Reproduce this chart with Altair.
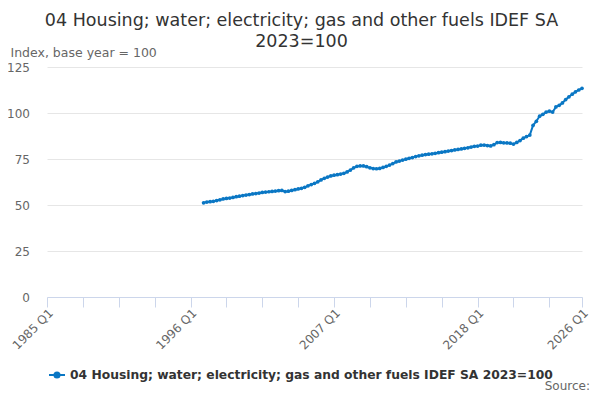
import altair as alt
import pandas as pd

series_name = "04 Housing; water; electricity; gas and other fuels IDEF SA 2023=100"
start_year = 1997  # first observation is 1997 Q1, quarterly
values = [
    51.2, 51.6, 51.8, 52.0,   # 1997
    52.4, 52.8, 53.3, 53.6,   # 1998
    53.8, 54.1, 54.5, 54.8,   # 1999
    55.1, 55.4, 55.7, 56.0,   # 2000
    56.2, 56.5, 56.8, 57.0,   # 2001
    57.2, 57.4, 57.6, 57.8,   # 2002
    57.9, 57.3, 57.5, 57.9,   # 2003
    58.3, 58.7, 59.1, 59.6,   # 2004
    60.4, 61.1, 61.8, 62.6,   # 2005
    63.6, 64.5, 65.2, 65.8,   # 2006
    66.2, 66.5, 66.8, 67.2,   # 2007
    68.0, 69.0, 70.2, 71.0,   # 2008
    71.2, 71.2, 70.8, 70.2,   # 2009
    69.8, 69.7, 69.9, 70.4,   # 2010
    71.0, 71.7, 72.5, 73.4,   # 2011
    73.9, 74.4, 74.9, 75.4,   # 2012
    75.8, 76.3, 76.7, 77.1,   # 2013
    77.4, 77.6, 77.8, 78.1,   # 2014
    78.4, 78.7, 79.0, 79.3,   # 2015
    79.6, 79.9, 80.2, 80.5,   # 2016
    80.8, 81.1, 81.5, 81.9,   # 2017
    82.0, 82.5, 82.6, 82.3,   # 2018
    82.1, 82.8, 83.9, 84.0,   # 2019
    83.8, 83.7, 83.6, 83.1,   # 2020
    84.0, 85.0, 86.3, 87.2,   # 2021
    88.0, 93.3, 95.5, 98.3,   # 2022
    99.3, 100.5, 101.0, 100.5,  # 2023
    103.3, 104.2, 105.5, 107.3,  # 2024
    108.8, 110.2, 111.5, 112.5,  # 2025
    113.4,                     # 2026
]

x_tick_positions = [0, 11, 22, 33, 44, 55, 66, 77, 88, 99, 110, 121, 132, 143, 154, 164]
x_tick_labels = {0: "1985 Q1", 44: "1996 Q1", 88: "2007 Q1", 132: "2018 Q1", 164: "2026 Q1"}
y_ticks = [0, 25, 50, 75, 100, 125]

BLUE = "#0a77c4"
FONT = "DejaVu Sans"

q = [(start_year - 1985) * 4 + i for i in range(len(values))]
periods = [f"{1985 + k // 4} Q{k % 4 + 1}" for k in q]
df = pd.DataFrame({"q": q, "period": periods, "value": values, "series": series_name})

label_expr = " : ".join(
    [f"datum.value == {k} ? '{v}'" for k, v in x_tick_labels.items()]
) + " : ''"

x_enc = alt.X(
    "q:Q",
    scale=alt.Scale(domain=[0, 164], nice=False, zero=False),
    axis=alt.Axis(
        values=x_tick_positions,
        tickCount=40,
        labelExpr=label_expr,
        title=None,
        grid=False,
        domainColor="#ccd6eb",
        tickColor="#ccd6eb",
        tickSize=10,
        labelAngle=-45,
        labelAlign="right",
        labelBaseline="top",
        labelPadding=0,
        labelColor="#666666",
        labelFontSize=12,
        labelFont=FONT,
        labelOverlap=False,
        labelFlush=False,
    ),
)
y_enc = alt.Y(
    "value:Q",
    scale=alt.Scale(domain=[0, 125], nice=False),
    axis=alt.Axis(
        values=y_ticks,
        title="Index, base year = 100",
        titleAngle=0,
        titleAlign="left",
        titleBaseline="middle",
        titleX=-37,
        titleY=-15,
        titleColor="#666666",
        titleFont=FONT,
        titleFontSize=12.5,
        titleFontWeight="normal",
        domain=False,
        ticks=False,
        labelPadding=17.5,
        labelColor="#666666",
        labelFontSize=12,
        labelFont=FONT,
        gridColor="#e6e6e6",
    ),
)
color_enc = alt.Color(
    "series:N",
    scale=alt.Scale(domain=[series_name], range=[BLUE]),
    legend=alt.Legend(
        title=None,
        orient="none",
        legendX=1,
        legendY=299,
        symbolType="M-1,0L1,0M-0.32,0A0.32,0.32,0,1,1,0.32,0A0.32,0.32,0,1,1,-0.32,0Z",
        symbolSize=256,
        symbolStrokeWidth=2,
        symbolFillColor=BLUE,
        symbolStrokeColor=BLUE,
        labelFont=FONT,
        labelFontSize=12.3,
        labelFontWeight="bold",
        labelColor="#333333",
        labelLimit=600,
        labelOffset=4,
    ),
)

line = alt.Chart(df).mark_line(strokeWidth=2).encode(x=x_enc, y=y_enc, color=color_enc)
points = alt.Chart(df).mark_point(filled=True, size=14, opacity=1).encode(
    x="q:Q", y="value:Q", color=alt.Color("series:N", legend=None)
)
source = alt.Chart(pd.DataFrame({"t": ["Source:"]})).mark_text(
    align="right", baseline="middle", font=FONT, fontSize=12, color="#666666"
).encode(text="t:N", x=alt.value(543), y=alt.value(318.5))

chart = (
    alt.layer(line, points, source)
    .properties(
        width=535,
        height=230,
        autosize=alt.AutoSizeParams(type="none"),
        padding={"left": 39, "top": 59, "right": 10, "bottom": 95},
        title=alt.Title(
            text=["04 Housing; water; electricity; gas and other fuels IDEF SA", "2023=100"],
            font=FONT,
            fontSize=17.5,
            fontWeight="normal",
            color="#333333",
            anchor="middle",
            dx=-13,
            offset=-4,
            lineHeight=21,
        ),
    )
    .configure_view(stroke=None)
)

chart.save("out.html", embed_options={"renderer": "svg", "actions": False})
